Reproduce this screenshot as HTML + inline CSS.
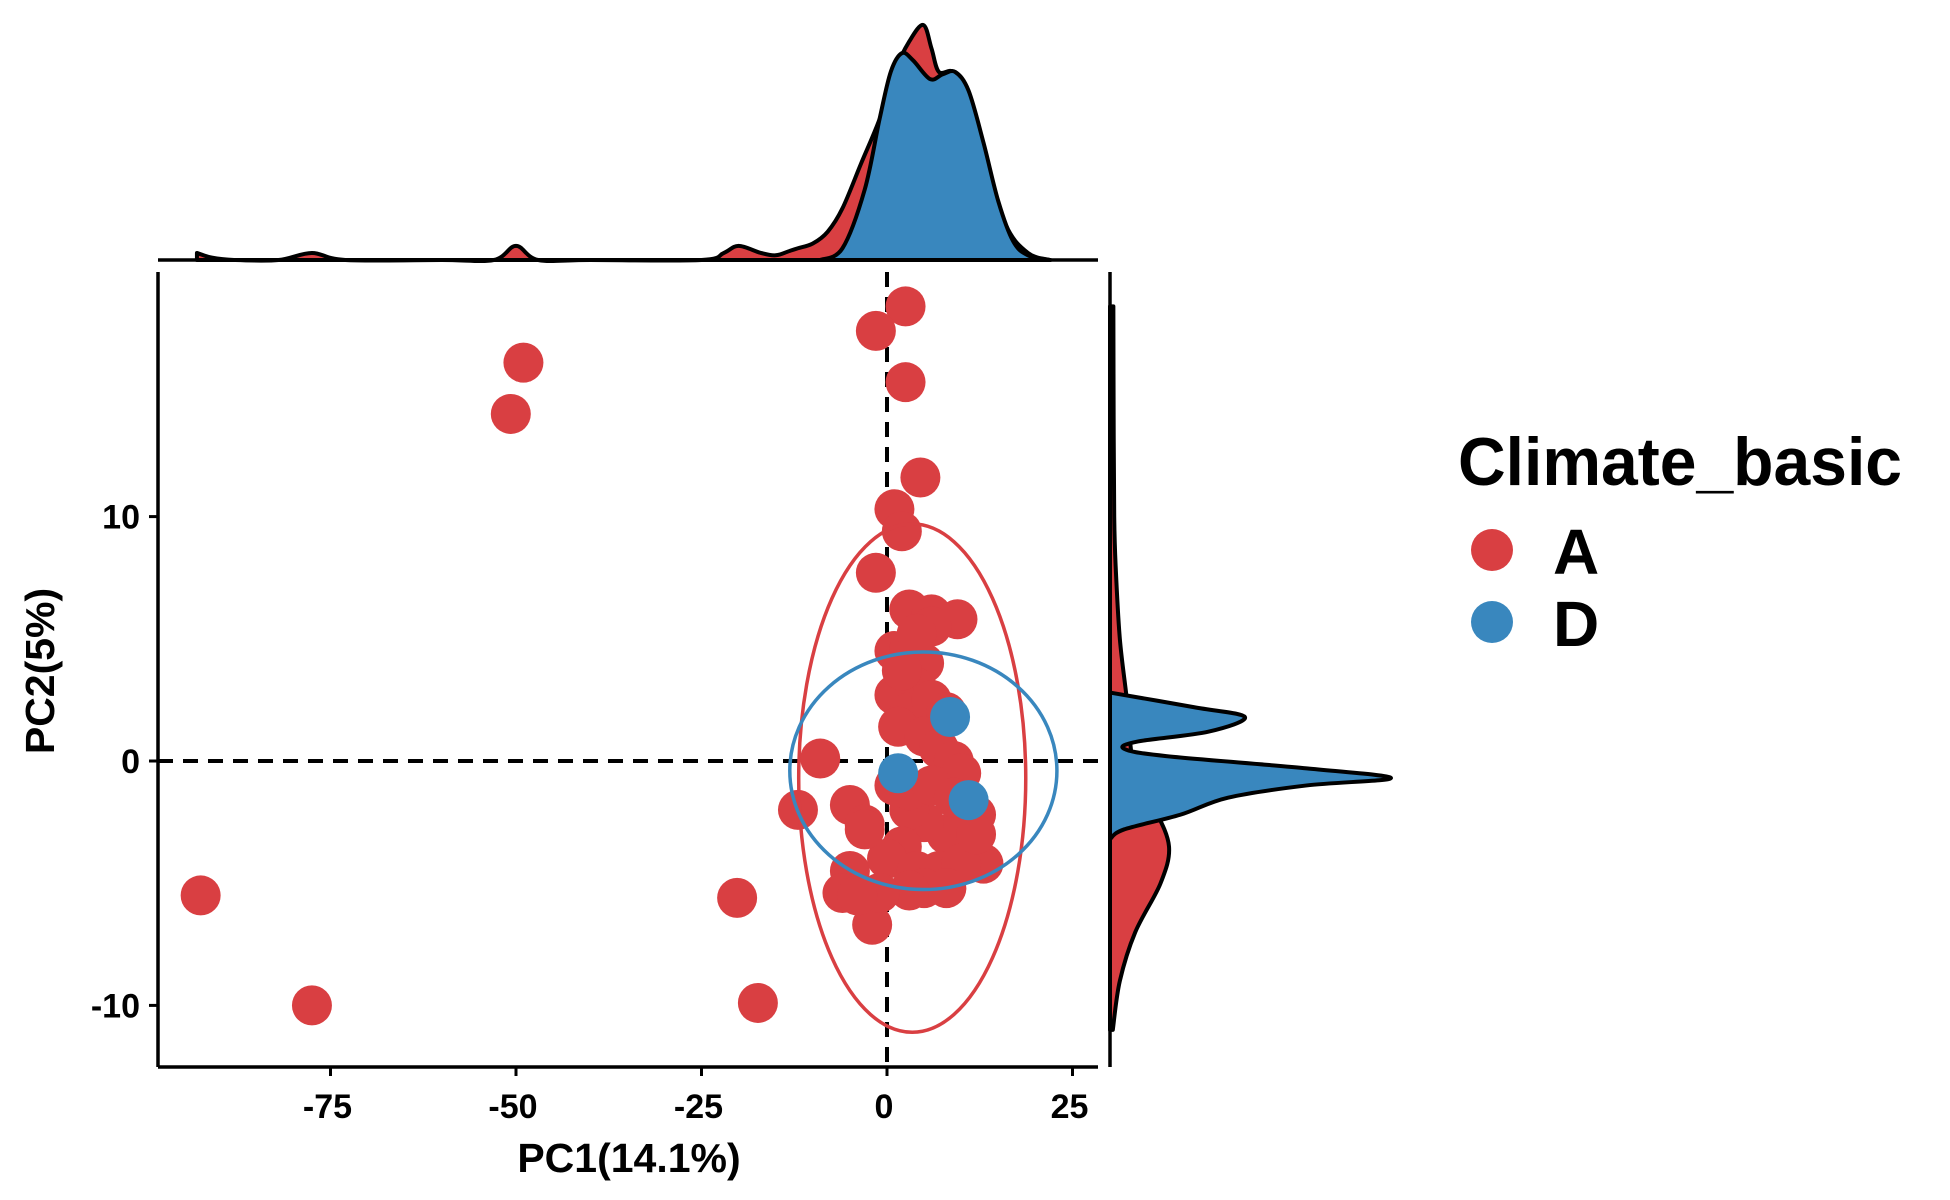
<!DOCTYPE html>
<html><head><meta charset="utf-8"><style>
html,body{margin:0;padding:0;background:#fff}
svg{display:block;font-family:"Liberation Sans",sans-serif;font-weight:bold}
</style></head><body>
<svg id="chart" width="1950" height="1200" viewBox="0 0 1950 1200" xmlns="http://www.w3.org/2000/svg">
<g id="plot"></g>
<g id="topd"></g>
<g id="rightd"></g>
<g id="axes"></g>
<g>
<text x="1458" y="485" font-size="68" textLength="444" lengthAdjust="spacingAndGlyphs">Climate_basic</text>
<circle cx="1492" cy="550" r="21" fill="#D93F42"/>
<text x="1553" y="574" font-size="64">A</text>
<circle cx="1492" cy="622" r="21" fill="#3987BE"/>
<text x="1553" y="646" font-size="64">D</text>
</g>
</svg>
<script>
const NS="http://www.w3.org/2000/svg";
const RED="#D93F42", BLUE="#3987BE";
// scatter data
const ptsAx=[-92.5,-77.5,-49,-50.7,-20.2,-17.4,2.5,-1.5,2.5,4.5,1,2,-1.5,3,6,9.5,1,3,-9,-12,-5,-3,10,13,-5,-6,-2,3,5,4,1,3,6,8,1.5,5,7,9,10,12,11,8,5,3,2,0,4,7,10,5,8,3,-1,-4,-3,1,3,6,9,12,2,6,4];
const ptsAy=[-5.5,-10,16.3,14.2,-5.6,-9.9,18.6,17.6,15.5,11.6,10.3,9.4,7.7,6.2,6,5.8,4.5,4.6,0.1,-2,-1.8,-2.6,-3,-4.2,-4.5,-5.4,-6.7,4.5,4,3,2.7,2,2.5,2,1.4,1,0.5,0,-0.5,-2.2,-3,-3,-2.5,-2,-3.5,-4,-4.5,-4.5,-4.2,-5.2,-5.2,-5.3,-5.4,-5.5,-2.8,-1,-1.2,-1,-1.5,-3,3.7,5.5,5.2];
const ptsDx=[8.5,1.5,11];
const ptsDy=[1.8,-0.5,-1.6];
// ellipses [cx, cy, rx, ry] in data units
const ellA=[3.4,-0.7,15.3,10.4];
const ellD=[4.9,-0.4,18.0,4.86];
// top density (x in PC1 units, relative height)
const topAx=[-93,-91,-88,-82,-77.5,-73,-60,-53,-50,-47,-40,-25,-22,-20,-17,-15,-13,-12,-10,-8,-6,-3.5,-1,1,3,4.9,6,7,9,11,13,16,19,22];
const topAy=[0.03,0.01,0,0,0.03,0,0,0,0.06,0,0,0,0.03,0.06,0.03,0.02,0.04,0.05,0.07,0.12,0.22,0.41,0.6,0.8,0.93,1.0,0.9,0.8,0.8,0.7,0.45,0.15,0.03,0];
const topDx=[-9,-6,-3,-1,0.5,2,3.5,5.8,7.5,9.2,11,13,15,17,19,22];
const topDy=[0,0.05,0.3,0.6,0.8,0.88,0.85,0.77,0.79,0.8,0.72,0.5,0.25,0.08,0.02,0];
// right density (y in PC2 units, relative width)
const rAy=[-11,-9,-7,-5,-3.5,-2,-1,0,1,2.5,5,8,10,14,18.6];
const rAx=[0.01,0.035,0.09,0.18,0.21,0.16,0.1,0.08,0.07,0.06,0.035,0.02,0.015,0.013,0.012];
const rDy=[-3.2,-2.8,-2.2,-1.5,-1.0,-0.7,-0.3,0.2,0.5,0.8,1.2,1.8,2.2,2.8];
const rDx=[0,0.05,0.25,0.42,0.7,1.0,0.7,0.2,0.05,0.1,0.35,0.48,0.3,0];
const xTicks=[-75,-50,-25,0,25], yTicks=[-10,0,10];

const X=v=>887+v*7.42, Y=v=>761-v*24.44;
const TB=260, TH=235, RB=1110, RW=281;
const PL=158, PR=1098, PT=272, PB=1067;
function el(p,t,a){const e=document.createElementNS(NS,t);for(const k in a)e.setAttribute(k,a[k]);p.appendChild(e);return e;}
function smooth(P){let d="M"+P[0][0]+","+P[0][1];for(let i=0;i<P.length-1;i++){const p0=P[Math.max(i-1,0)],p1=P[i],p2=P[i+1],p3=P[Math.min(i+2,P.length-1)];d+=" C"+(p1[0]+(p2[0]-p0[0])/6)+","+(p1[1]+(p2[1]-p0[1])/6)+" "+(p2[0]-(p3[0]-p1[0])/6)+","+(p2[1]-(p3[1]-p1[1])/6)+" "+p2[0]+","+p2[1];}return d;}
const plot=document.getElementById('plot'),topd=document.getElementById('topd'),rightd=document.getElementById('rightd'),axes=document.getElementById('axes');

let l=el(plot,'line',{x1:X(0),x2:X(0),y1:PT,y2:PB,stroke:'#000','stroke-width':4,'stroke-dasharray':'15 10'});

l=el(plot,'line',{x1:PL,x2:PR,y1:Y(0),y2:Y(0),stroke:'#000','stroke-width':4,'stroke-dasharray':'15 10'});

for(let i=0;i<ptsAx.length;i++){const c=el(plot,'circle',{cx:X(ptsAx[i]),cy:Y(ptsAy[i]),r:20,fill:RED});

}
for(let i=0;i<ptsDx.length;i++){const c=el(plot,'circle',{cx:X(ptsDx[i]),cy:Y(ptsDy[i]),r:20,fill:BLUE});

}
let e=el(plot,'ellipse',{cx:X(ellA[0]),cy:Y(ellA[1]),rx:ellA[2]*7.42,ry:ellA[3]*24.44,fill:'none',stroke:RED,'stroke-width':3.5});

e=el(plot,'ellipse',{cx:X(ellD[0]),cy:Y(ellD[1]),rx:ellD[2]*7.42,ry:ellD[3]*24.44,fill:'none',stroke:BLUE,'stroke-width':3.5});


function topPath(xs,ys,col,name){const P=xs.map((x,i)=>[X(x),TB-ys[i]*TH]);const d=smooth(P)+" L"+X(xs[xs.length-1])+","+TB+" L"+X(xs[0])+","+TB+"Z";const p=el(topd,'path',{d:d,fill:col,stroke:'#000','stroke-width':4,'stroke-linejoin':'round'});

}
topPath(topAx,topAy,RED,'density-top-a');topPath(topDx,topDy,BLUE,'density-top-d');
function rPath(ys,xs,col,name){const P=ys.map((y,i)=>[RB+xs[i]*RW,Y(y)]);const d=smooth(P)+" L"+RB+","+Y(ys[ys.length-1])+" L"+RB+","+Y(ys[0])+"Z";const p=el(rightd,'path',{d:d,fill:col,stroke:'#000','stroke-width':4,'stroke-linejoin':'round'});

}
rPath(rAy,rAx,RED,'density-right-a');rPath(rDy,rDx,BLUE,'density-right-d');

[[PL,PT,PL,PB,'y-axis-line'],[PL,PB,PR,PB,'x-axis-line'],[PL,TB,PR,TB,'top-density-axis'],[RB,PT,RB,PB,'right-density-axis']].forEach(a=>{const ln=el(axes,'line',{x1:a[0],y1:a[1],x2:a[2],y2:a[3],stroke:'#000','stroke-width':3.5});

});
xTicks.forEach(t=>{const tk=el(axes,'line',{x1:X(t),x2:X(t),y1:PB,y2:PB+9,stroke:'#000','stroke-width':3});


const tx=el(axes,'text',{x:X(t)-3,y:1118,'font-size':34,'text-anchor':'middle'});tx.textContent=t;

});
yTicks.forEach(t=>{const tk=el(axes,'line',{x1:PL-9,x2:PL,y1:Y(t),y2:Y(t),stroke:'#000','stroke-width':3});


const tx=el(axes,'text',{x:140,y:Y(t)+12,'font-size':34,'text-anchor':'end'});tx.textContent=t;

});
let t=el(axes,'text',{x:629,y:1172,'font-size':41,'text-anchor':'middle'});t.textContent='PC1(14.1%)';

t=el(axes,'text',{x:0,y:0,'font-size':41,'text-anchor':'middle',transform:'translate(54,671) rotate(-90)'});t.textContent='PC2(5%)';

</script>
</body></html>
